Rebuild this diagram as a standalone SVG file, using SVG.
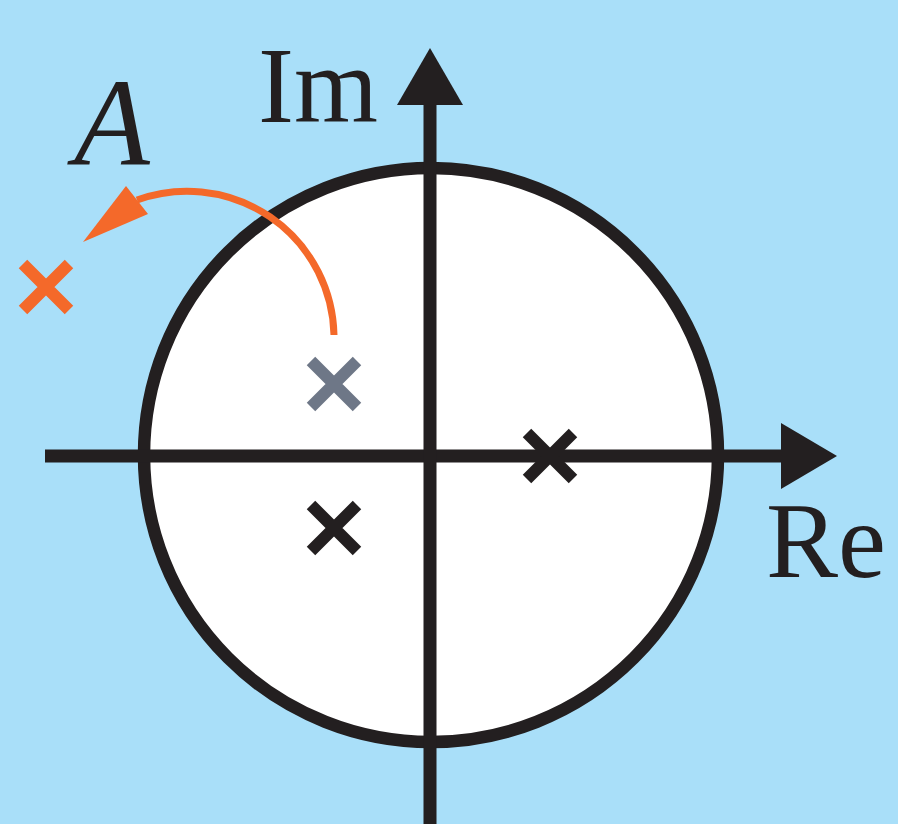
<svg xmlns="http://www.w3.org/2000/svg" width="898" height="824" viewBox="0 0 898 824">
  <style>
    .axis { stroke: #231f20; stroke-width: 13; fill: none; }
    .head { fill: #231f20; }
    .x { stroke-width: 12; stroke-linecap: butt; fill: none; }
    .lbl { font-family: "Liberation Serif", "Times New Roman", serif; fill: #231f20; }
  </style>
  <rect x="0" y="0" width="898" height="824" fill="#a9dff9"/>
  <g id="unit-circle">
    <circle cx="431" cy="455" r="287" fill="#ffffff" stroke="#231f20" stroke-width="12.5"/>
  </g>
  <g id="connectors">
    <line class="axis" x1="45" y1="456" x2="785" y2="456"/>
    <polygon class="head" points="781,423 837,456 781,489"/>
    <line class="axis" x1="430" y1="824" x2="430" y2="100"/>
    <polygon class="head" points="397,105 430,48 463,105"/>
    <path d="M 334 335 A 147 147 0 0 0 137 200" stroke="#f4692a" stroke-width="7" fill="none"/>
    <polygon points="83,242 126,186 137,200 148,214" fill="#f4692a"/>
  </g>
  <g id="pole-gray">
    <path class="x" stroke="#6e7787" d="M 311 361 L 357 407 M 357 361 L 311 407"/>
  </g>
  <g id="pole-black-lower">
    <path class="x" stroke="#231f20" d="M 311 505 L 357 551 M 357 505 L 311 551"/>
  </g>
  <g id="pole-black-right">
    <path class="x" stroke="#231f20" d="M 527 433 L 573 479 M 573 433 L 527 479"/>
  </g>
  <g id="pole-orange">
    <path class="x" stroke="#f4692a" d="M 23 264 L 69 310 M 69 264 L 23 310"/>
  </g>
  <g id="label-im">
    <text class="lbl" x="258" y="122" font-size="108">Im</text>
  </g>
  <g id="label-re">
    <text class="lbl" x="766" y="577" font-size="108">Re</text>
  </g>
  <g id="label-a">
    <text class="lbl" x="74" y="165" font-size="124" font-style="italic">A</text>
  </g>
</svg>
